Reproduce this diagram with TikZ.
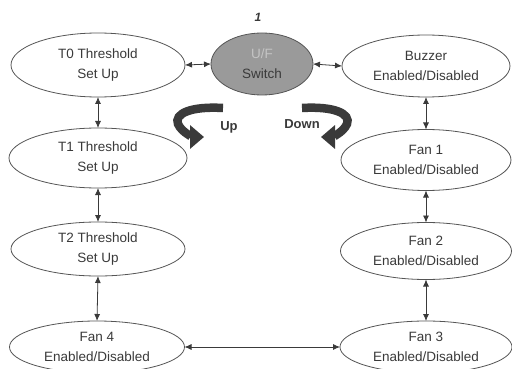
\documentclass[tikz,border=0pt]{standalone}
\usepackage{fontspec}
\setmainfont{Liberation Sans}
\usetikzlibrary{shapes.geometric,arrows.meta}
\definecolor{ink}{HTML}{3A3A3A}
\definecolor{edge}{HTML}{555555}
\definecolor{swfill}{HTML}{9A9A9A}
\definecolor{uf}{HTML}{C4C4C4}
\begin{document}
\begin{tikzpicture}[x=1pt,y=-1pt,
  state/.style={ellipse, draw=edge, line width=0.8pt, inner sep=0pt, outer sep=0pt, align=center, text=ink, font=\fontsize{13.5}{20}\selectfont},
  link/.style={{Latex[length=7pt,width=6pt]}-{Latex[length=7pt,width=6pt]}, draw=ink, line width=0.8pt},
  turn/.style={draw=ink, line width=8.5pt, -{Triangle[length=14pt,width=23pt]}},
  lbl/.style={font=\bfseries\fontsize{13}{15}\selectfont, text=ink}]
\useasboundingbox[fill=white] (0,0) rectangle (512,369);

\node[font=\bfseries\itshape\fontsize{12}{14}\selectfont, text=ink] (num) at (258,17) {1};

\node[state, minimum width=174pt, minimum height=64pt] (t0) at (98,65) {T0 Threshold\\Set Up};
\node[state, fill=swfill, minimum width=102pt, minimum height=62pt] (sw) at (262,64) {\textcolor{uf}{U/F}\\Switch};
\node[state, minimum width=168pt, minimum height=62pt] (bz) at (426,66) {Buzzer\\Enabled/Disabled};
\node[state, minimum width=178pt, minimum height=60pt] (t1) at (98,158) {T1 Threshold\\Set Up};
\node[state, minimum width=170pt, minimum height=61pt] (f1) at (426,160) {Fan 1\\Enabled/Disabled};
\node[state, minimum width=174pt, minimum height=54pt] (t2) at (98,249) {T2 Threshold\\Set Up};
\node[state, minimum width=171pt, minimum height=57pt] (f2) at (426,251) {Fan 2\\Enabled/Disabled};
\node[state, minimum width=175pt, minimum height=52pt] (f4) at (97,347) {Fan 4\\Enabled/Disabled};
\node[state, minimum width=172pt, minimum height=52pt] (f3) at (426,347) {Fan 3\\Enabled/Disabled};

\draw[link] (t0.east) -- (sw.west);
\draw[link] (sw.east) -- (bz.west);
\draw[link] (t0.south) -- (t1.north);
\draw[link] (t1.south) -- (t2.north);
\draw[link] (t2.south) -- (f4.north);
\draw[link] (bz.south) -- (f1.north);
\draw[link] (f1.south) -- (f2.north);
\draw[link] (f2.south) -- (f3.north);
\draw[link] (f4.east) -- (f3.west);

\draw[turn] (223,108) .. controls (190,106) and (174,114) .. (178,124) .. controls (182,133) and (194,137) .. (204,137);
\draw[turn] (302,108) .. controls (335,106) and (351,114) .. (347,124) .. controls (343,133) and (331,137) .. (321,137);
\node[lbl] (up) at (229,127) {Up};
\node[lbl] (down) at (302,124) {Down};
\end{tikzpicture}
\end{document}
